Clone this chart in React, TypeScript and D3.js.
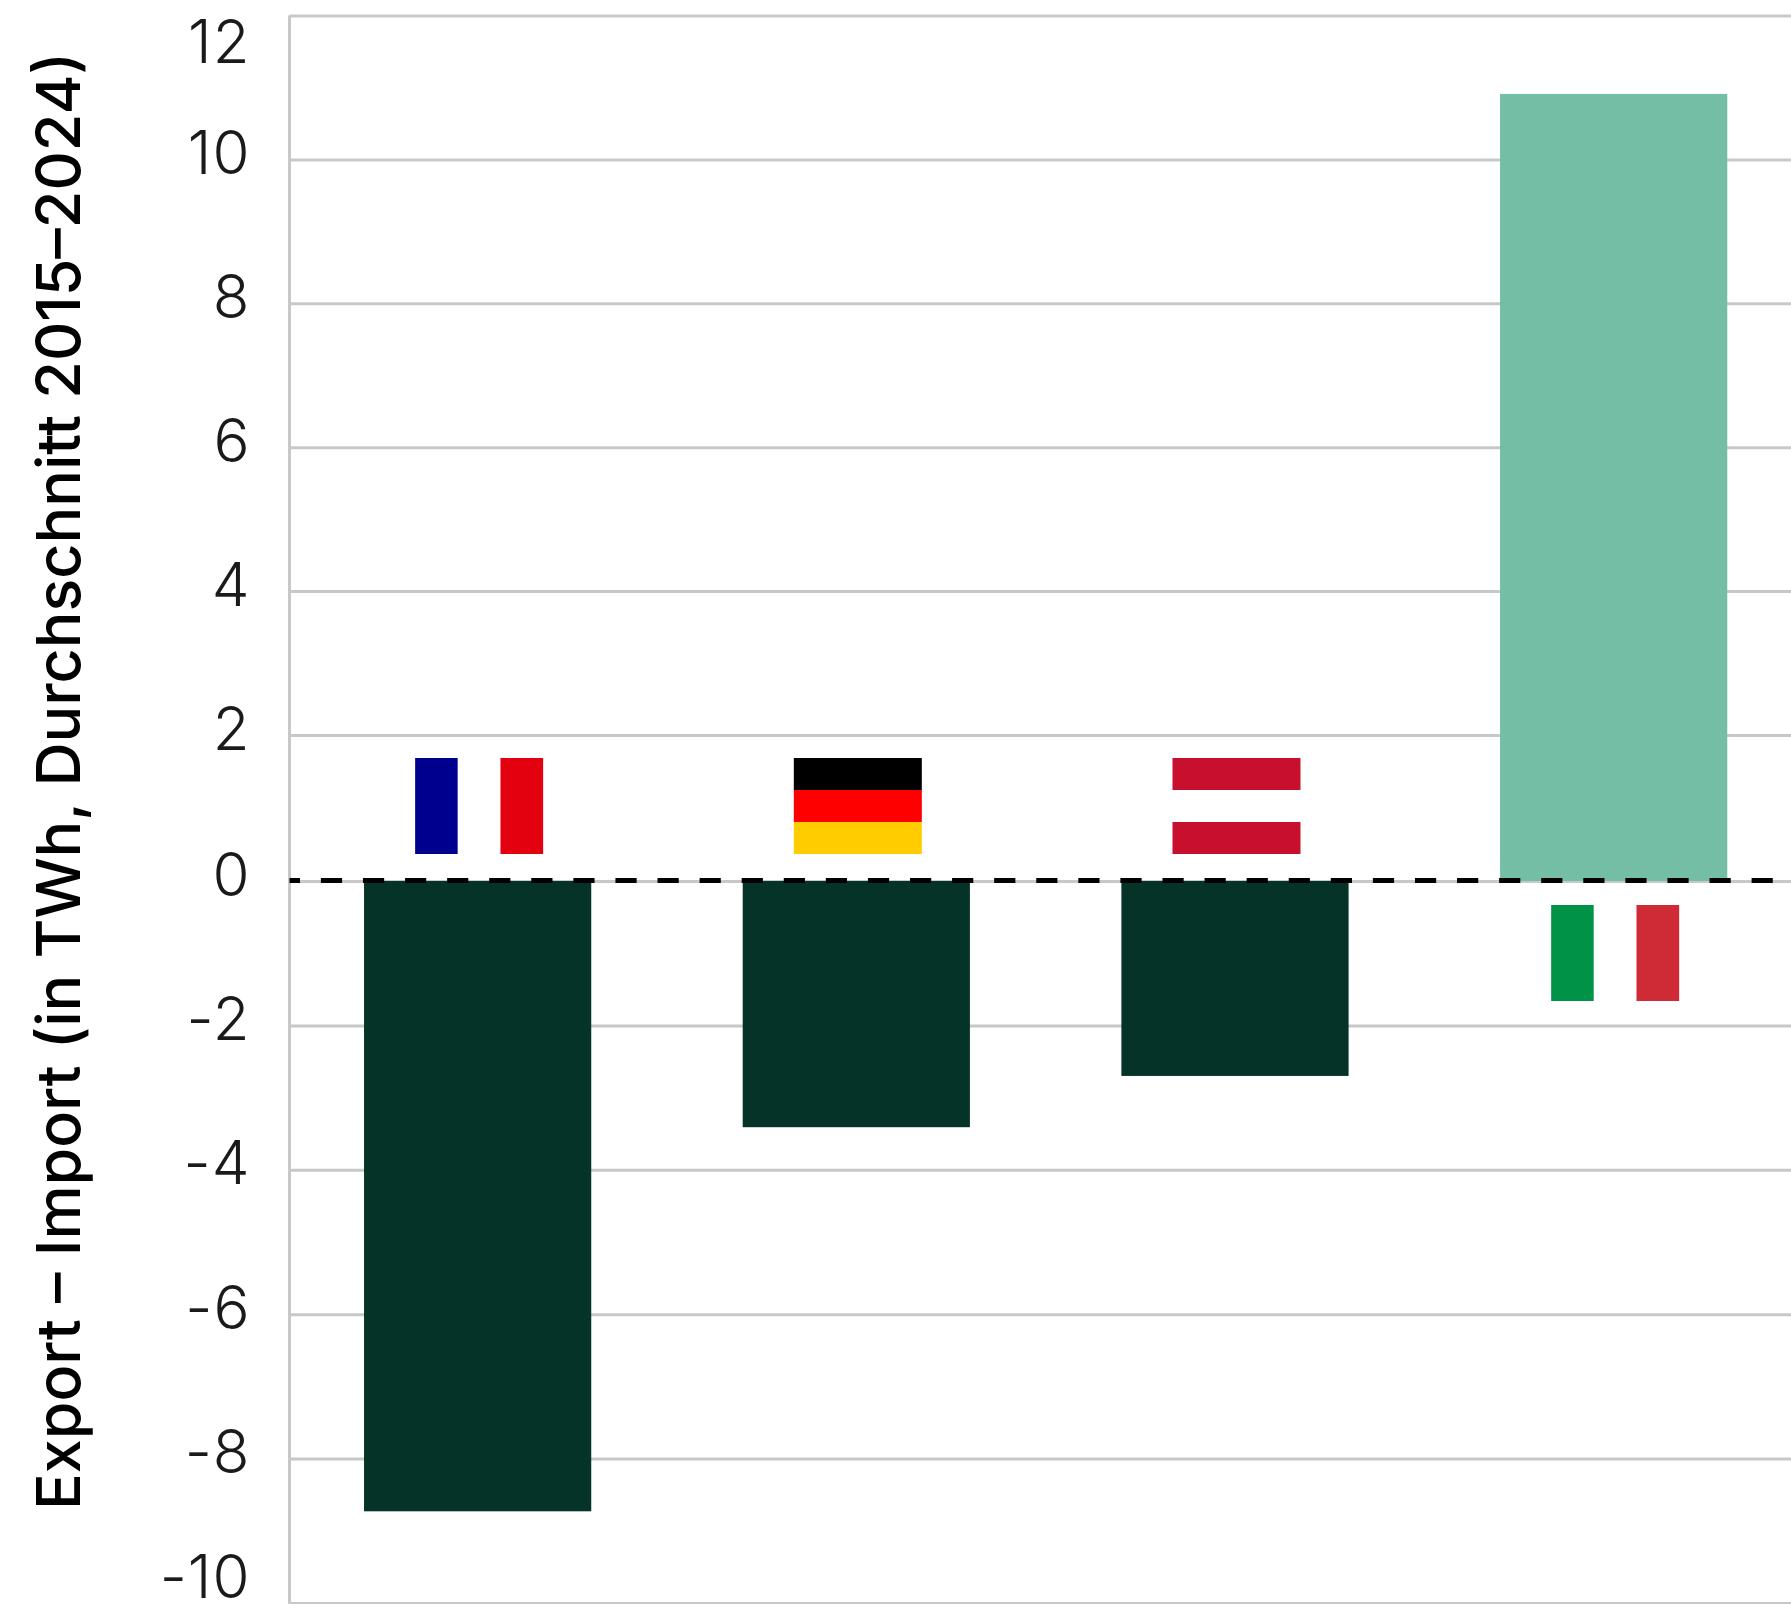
import React, { useEffect, useRef } from 'react';
import * as d3 from 'd3';

// Werte
const countries = ['Frankreich', 'Deutschland', 'Österreich', 'Italien'];
const saldo = [-8.73, -3.41, -2.7, 10.91];
const yTicks = [-10, -8, -6, -4, -2, 0, 2, 4, 6, 8, 10, 12];
const yTitle = 'Export – Import (in TWh, Durchschnitt 2015–2024)';

const frStripes = ['#00008f', '#ffffff', '#e3000f'];
const deStripes = ['#000000', '#ff0000', '#ffcc00'];
const atStripes = ['#c8102e', '#ffffff', '#c8102e'];
const itStripes = ['#009246', '#ffffff', '#ce2b37'];
const flagStripes = [frStripes, deStripes, atStripes, itStripes];
const flagVertical = [true, false, false, true];

const WIDTH = 1791;
const HEIGHT = 1604;
const FONT = 'Inter, sans-serif';
const GRID = '#c8c8c8';

const App = () => {
  const ref = useRef<SVGSVGElement>(null);

  useEffect(() => {
    const svg = d3.select(ref.current);
    svg.selectAll('*').remove();

    const left = 289.5;
    // die Kategorien laufen rechts aus dem Bild hinaus
    const x = d3.scaleBand().domain(countries).range([288.3, 1803]).paddingInner(0.4).paddingOuter(0.2);
    // im Original liegt die Null nicht ganz auf dem gleichmäßigen Raster
    const y = d3.scaleLinear().domain([-10, 0, 2, 12]).range([1603, 881, 735, 15.5]);

    // Raster und Achse
    const axis = svg.append('g').attr('transform', `translate(${left},0)`).call(
      d3.axisLeft(y).tickValues(yTicks).tickSize(-(WIDTH - left)).tickPadding(0).tickFormat((d) => String(d))
    );
    axis.select('.domain').attr('stroke', GRID).attr('stroke-width', 3).attr('d', `M0,${y(12)}V${HEIGHT}`);
    axis.selectAll('.tick line').attr('stroke', GRID).attr('stroke-width', 3);
    axis
      .selectAll('.tick text')
      .attr('x', -39)
      .attr('dy', null)
      .attr('dominant-baseline', 'central')
      .attr('text-anchor', 'end')
      .attr('fill', '#1a1a1a')
      .style('font-family', FONT)
      .style('font-size', '60px')
      .style('font-weight', 300)
      .style('letter-spacing', '1px')
      .attr('y', (d: any) => {
        // Beschriftungen bleiben im Bild
        const pos = y(d);
        return Math.min(1575, Math.max(40, pos - 8)) - pos;
      });

    // Balken
    svg
      .append('g')
      .selectAll('rect')
      .data(saldo)
      .join('rect')
      .attr('x', (_, i) => x(countries[i])!)
      .attr('width', x.bandwidth())
      .attr('y', (d) => y(Math.max(d, 0)))
      .attr('height', (d) => Math.abs(y(d) - y(0)))
      .attr('fill', (d) => (d < 0 ? '#063327' : '#74bea5'));

    // Nulllinie gestrichelt
    svg
      .append('line')
      .attr('x1', left)
      .attr('x2', WIDTH)
      .attr('y1', y(0) - 0.5)
      .attr('y2', y(0) - 0.5)
      .attr('stroke', '#000')
      .attr('stroke-width', 5)
      .attr('stroke-dasharray', '21.2 20.88')
      .attr('stroke-dashoffset', 10.7);

    // Flaggen
    const flagW = 128;
    const flagH = 96;
    const part = 1 / 3;
    countries.forEach((c, i) => {
      const cx = x(c)! + x.bandwidth() / 2 + 1.5;
      const top = saldo[i] < 0 ? y(0) - 27 - flagH : y(0) + 24;
      svg
        .append('g')
        .selectAll('rect')
        .data(flagStripes[i])
        .join('rect')
        .attr('x', (_, k) => (flagVertical[i] ? cx - flagW / 2 + k * part * flagW : cx - flagW / 2))
        .attr('y', (_, k) => (flagVertical[i] ? top : top + k * part * flagH))
        .attr('width', flagVertical[i] ? flagW * part : flagW)
        .attr('height', flagVertical[i] ? flagH : flagH * part)
        .attr('fill', (d) => d);
    });

    // Achsentitel
    svg
      .append('text')
      .attr('transform', `translate(80,781) rotate(-90)`)
      .attr('text-anchor', 'middle')
      .attr('fill', '#000')
      .style('font-family', FONT)
      .style('font-size', '61px')
      .style('font-weight', 500)
      .text(yTitle);
  }, []);

  return (
    <svg
      ref={ref}
      width={WIDTH}
      height={HEIGHT}
      style={{ position: 'absolute', left: 0, top: 0, background: '#fff' }}
    />
  );
};

export default App;
